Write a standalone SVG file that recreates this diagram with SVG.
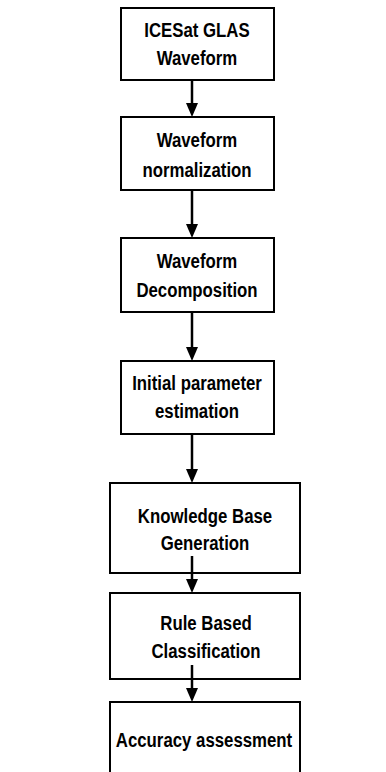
<svg xmlns="http://www.w3.org/2000/svg" width="386" height="772" viewBox="0 0 386 772">
<defs>
<style>
.box{fill:#fff;stroke:#000;stroke-width:2}
.t{font-family:"Liberation Sans",Arial,sans-serif;font-weight:bold;font-size:21px;text-anchor:middle;fill:#000}
.c{stroke:#000;stroke-width:2.5;fill:none}
</style>
<marker id="ah" markerWidth="14" markerHeight="12" refX="10" refY="6" orient="auto" markerUnits="userSpaceOnUse">
<path d="M0,0 L14,6 L0,12 Z" fill="#000"/>
</marker>
</defs>
<g id="n1"><rect class="box" x="121" y="8" width="153" height="72"/><text class="t" transform="translate(197 37) scale(0.8 1)">ICESat GLAS</text><text class="t" transform="translate(197 65) scale(0.8 1)">Waveform</text></g>
<g id="n2"><rect class="box" x="121" y="117" width="153" height="73"/><text class="t" transform="translate(197 147) scale(0.8 1)">Waveform</text><text class="t" transform="translate(197 177) scale(0.8 1)">normalization</text></g>
<g id="n3"><rect class="box" x="121" y="238" width="153" height="74"/><text class="t" transform="translate(197 268) scale(0.8 1)">Waveform</text><text class="t" transform="translate(197 297) scale(0.8 1)">Decomposition</text></g>
<g id="n4"><rect class="box" x="121" y="361" width="153" height="73"/><text class="t" transform="translate(197 390) scale(0.8 1)">Initial parameter</text><text class="t" transform="translate(197 418) scale(0.8 1)">estimation</text></g>
<g id="n5"><rect class="box" x="110" y="483" width="190" height="90"/><text class="t" transform="translate(205 523) scale(0.8 1)">Knowledge Base</text><text class="t" transform="translate(205 550) scale(0.8 1)">Generation</text></g>
<g id="n6"><rect class="box" x="110" y="593" width="190" height="86"/><text class="t" transform="translate(206 630) scale(0.8 1)">Rule Based</text><text class="t" transform="translate(206 658) scale(0.8 1)">Classification</text></g>
<g id="n7"><rect class="box" x="110" y="702" width="190" height="80"/><text class="t" transform="translate(204 747) scale(0.8 1)">Accuracy assessment</text></g>
<g id="connectors">
<line class="c" x1="192" y1="81" x2="192" y2="113" marker-end="url(#ah)"/>
<line class="c" x1="192" y1="191" x2="192" y2="234" marker-end="url(#ah)"/>
<line class="c" x1="192" y1="313" x2="192" y2="357" marker-end="url(#ah)"/>
<line class="c" x1="192" y1="435" x2="192" y2="479" marker-end="url(#ah)"/>
<line class="c" x1="192" y1="556" x2="192" y2="589" marker-end="url(#ah)"/>
<line class="c" x1="192" y1="665" x2="192" y2="698" marker-end="url(#ah)"/>
</g>
</svg>
